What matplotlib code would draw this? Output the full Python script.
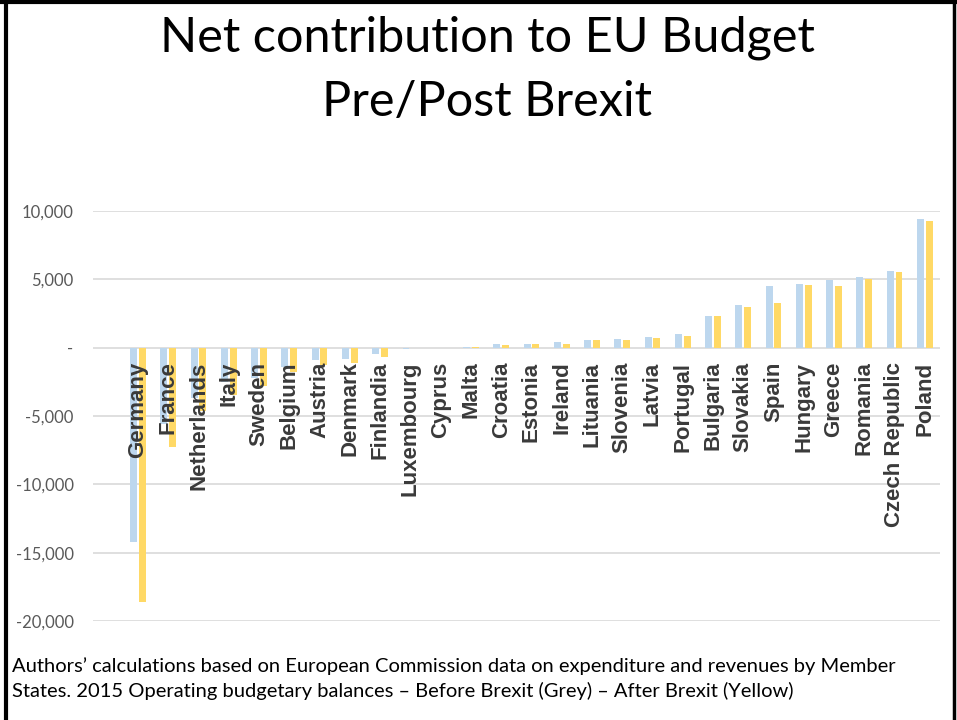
import numpy as np
import matplotlib.pyplot as plt
from matplotlib.lines import Line2D

countries = ["Germany", "France", "Netherlands", "Italy", "Sweden", "Belgium",
             "Austria", "Denmark", "Finlandia", "Luxembourg", "Cyprus", "Malta",
             "Croatia", "Estonia", "Ireland", "Lituania", "Slovenia", "Latvia",
             "Portugal", "Bulgaria", "Slovakia", "Spain", "Hungary", "Greece",
             "Romania", "Czech Republic", "Poland"]

# 2015 operating budgetary balances, EUR million
before_brexit = [-14200, -5600, -3700, -2500, -2200, -1400, -900, -800, -500,
                 -100, -50, 50, 300, 300, 390, 580, 610, 780, 1020, 2290,
                 3110, 4520, 4640, 4960, 5150, 5590, 9450]
after_brexit = [-18600, -7300, -4600, -3500, -2800, -1800, -1300, -1100, -700,
                -50, -20, 20, 170, 250, 250, 530, 530, 730, 830, 2290,
                2990, 3300, 4570, 4520, 5030, 5540, 9280]

y_ticks = [-20000, -15000, -10000, -5000, 0, 5000, 10000]

grey = "#BDD7EE"
yellow = "#FFD966"

fig = plt.figure(figsize=(9.57, 7.2), dpi=100)
ax = fig.add_axes([93 / 957, 1 - 621 / 720, 847 / 957, 410 / 720])

x = np.arange(len(countries))
ax.bar(x - 0.145, before_brexit, width=0.23, color=grey, zorder=2)
ax.bar(x + 0.145, after_brexit, width=0.23, color=yellow, zorder=2)

ax.set_xlim(-1.487, len(countries) - 0.5)
ax.set_ylim(-20000, 10000)
ax.set_yticks(y_ticks)
ax.set_yticklabels(["-" if v == 0 else "{:,}".format(v) for v in y_ticks],
                   fontsize=12, color="#595959", family="Lato")
ax.tick_params(axis="y", length=0, pad=14)
ax.set_xticks([])
ax.grid(axis="y", color="#d9d9d9", linewidth=1.2, zorder=0)
for s in ax.spines.values():
    s.set_visible(False)

# category labels sit just under the zero line, over the bars
for i, name in enumerate(countries):
    ax.annotate(name, xy=(i, 0), xytext=(0, -10), textcoords="offset points",
                rotation=90, ha="center", va="top", fontsize=16,
                fontweight="bold", color="#3a3a3a", family="Liberation Sans",
                zorder=3)

fig.text(487 / 957, 1 - 52 / 720, "Net contribution to EU Budget",
         ha="center", va="baseline", fontsize=35, family="Lato")
fig.text(487 / 957, 1 - 116 / 720, "Pre/Post Brexit",
         ha="center", va="baseline", fontsize=35, family="Lato")

fig.text(12 / 957, 1 - 672 / 720,
         "Authors\u2019 calculations based on European Commission data on expenditure and revenues by Member",
         ha="left", va="baseline", fontsize=14.5, family="Lato")
fig.text(12 / 957, 1 - 697 / 720,
         "States. 2015 Operating budgetary balances \u2013 Before Brexit (Grey) \u2013 After Brexit (Yellow)",
         ha="left", va="baseline", fontsize=14.5, family="Lato")

# slide frame: left, top and right edges
fig.add_artist(Line2D([5.5 / 957, 5.5 / 957], [0, 1], color="black", linewidth=3))
fig.add_artist(Line2D([0, 1], [1 - 1.5 / 720, 1 - 1.5 / 720], color="black", linewidth=3))
fig.add_artist(Line2D([954 / 957, 954 / 957], [0, 1], color="black", linewidth=2.5))

fig.savefig("out.png", dpi=100)
